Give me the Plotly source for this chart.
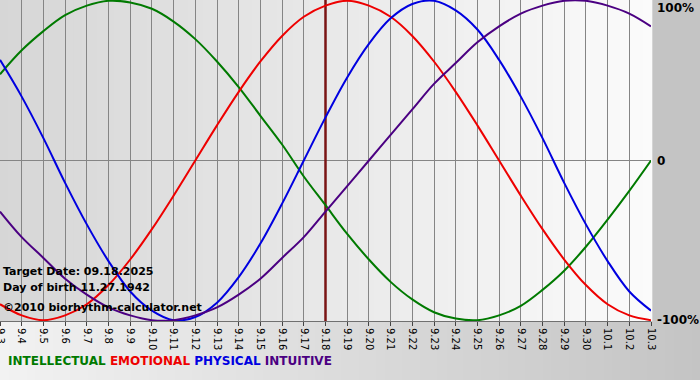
import plotly.graph_objects as go

# ---- data ----
dates = ["9.3", "9.4", "9.5", "9.6", "9.7", "9.8", "9.9", "9.10", "9.11", "9.12",
         "9.13", "9.14", "9.15", "9.16", "9.17", "9.18", "9.19", "9.20", "9.21",
         "9.22", "9.23", "9.24", "9.25", "9.26", "9.27", "9.28", "9.29", "9.30",
         "10.1", "10.2", "10.3"]

intellectual = [0.54, 0.69, 0.81, 0.91, 0.97, 1.00, 0.99, 0.95, 0.87, 0.76,
                0.62, 0.46, 0.28, 0.10, -0.10, -0.28, -0.46, -0.62, -0.76,
                -0.87, -0.95, -0.99, -1.00, -0.97, -0.91, -0.81, -0.69, -0.54,
                -0.37, -0.19, 0.00]
emotional = [-0.90, -0.97, -1.00, -0.97, -0.90, -0.78, -0.62, -0.43, -0.22, 0.00,
             0.22, 0.43, 0.62, 0.78, 0.90, 0.97, 1.00, 0.97, 0.90, 0.78,
             0.62, 0.43, 0.22, 0.00, -0.22, -0.43, -0.62, -0.78, -0.90, -0.97,
             -1.00]
physical = [0.63, 0.40, 0.14, -0.14, -0.40, -0.63, -0.82, -0.94, -1.00, -0.98,
            -0.89, -0.73, -0.52, -0.27, 0.00, 0.27, 0.52, 0.73, 0.89, 0.98,
            1.00, 0.94, 0.82, 0.63, 0.40, 0.14, -0.14, -0.40, -0.63, -0.82,
            -0.94]
intuitive = [-0.32, -0.48, -0.61, -0.74, -0.84, -0.92, -0.97, -1.00, -1.00, -0.97,
             -0.92, -0.84, -0.74, -0.61, -0.48, -0.32, -0.16, 0.00, 0.16, 0.32,
             0.48, 0.61, 0.74, 0.84, 0.92, 0.97, 1.00, 1.00, 0.97, 0.92,
             0.84]

target_date = "9.18"
series_names = ["INTELLECTUAL", "EMOTIONAL", "PHYSICAL", "INTUITIVE"]
series_colors = ["#007a00", "#ee0000", "#0000e0", "#4b0082"]
y_labels = ["100%", "0", "-100%"]
info_lines = ["Target Date: 09.18.2025", "Day of birth 11.27.1942",
              "\u00a92010 biorhythm-calculator.net"]

W, H = 700, 380
ML, MR, MT, MB = 0, 49, 0, 59
PW, PH = W - ML - MR, H - MT - MB

fig = go.Figure()

# target date line
fig.add_trace(go.Scatter(x=[target_date, target_date], y=[-1.1, 1.1], mode="lines",
                         line=dict(color="#7a1414", width=2.5), hoverinfo="skip",
                         showlegend=False))

for name, vals, col in zip(series_names,
                           [intellectual, emotional, physical, intuitive],
                           series_colors):
    fig.add_trace(go.Scatter(x=dates, y=vals, mode="lines", name=name,
                             line=dict(color=col, width=2, shape="spline", smoothing=1.0),
                             showlegend=False))


def lerp_gray(a, b, t):
    v = int(round(a + (b - a) * t))
    return "rgb(%d,%d,%d)" % (v, v, v)


shapes = []
# plot area gradient (darker left -> lighter right)
N = 80
for i in range(N):
    shapes.append(dict(type="rect", xref="paper", yref="paper",
                       x0=i / N, x1=(i + 1) / N + 0.002, y0=0, y1=1,
                       fillcolor=lerp_gray(214, 251, (i + 0.5) / N),
                       line=dict(width=0), layer="below"))
# bottom band gradient (lighter left -> darker right)
xr = W / PW
yb = -MB / PH
for i in range(N):
    shapes.append(dict(type="rect", xref="paper", yref="paper",
                       x0=xr * i / N, x1=xr * (i + 1) / N + 0.002, y0=yb, y1=0,
                       fillcolor=lerp_gray(242, 196, (i + 0.5) / N),
                       line=dict(width=0), layer="below"))

annotations = []
for txt, yv, anc, ys in zip(y_labels, [1, 0, -1], ["top", "middle", "middle"], [2, 0, 0]):
    annotations.append(dict(text="<b>%s</b>" % txt, xref="paper", yref="y",
                            x=1, y=yv, xanchor="left", yanchor=anc, xshift=4,
                            yshift=ys, showarrow=False,
                            font=dict(family="DejaVu Sans", size=12, color="#000")))
for txt, yp in zip(info_lines, [1 - 271 / PH, 1 - 287 / PH, 1 - 307 / PH]):
    annotations.append(dict(text="<b>%s</b>" % txt, xref="paper", yref="paper",
                            x=0, y=yp, xanchor="left", yanchor="middle", xshift=1,
                            showarrow=False,
                            font=dict(family="DejaVu Sans", size=11, color="#000")))
legend_html = " ".join('<span style="color:%s">%s</span>' % (c, n)
                       for n, c in zip(series_names, series_colors))
annotations.append(dict(text="<b>%s</b>" % legend_html, xref="paper", yref="paper",
                        x=0, y=1 - (361 - MT) / PH, xanchor="left", yanchor="middle",
                        xshift=6, showarrow=False,
                        font=dict(family="DejaVu Sans", size=12)))

fig.update_layout(
    width=W, height=H,
    margin=dict(l=ML, r=MR, t=MT, b=MB, pad=0, autoexpand=False),
    paper_bgcolor="#c4c4c4",
    plot_bgcolor="rgba(0,0,0,0)",
    shapes=shapes,
    annotations=annotations,
    showlegend=False,
    xaxis=dict(type="category", categoryorder="array", categoryarray=dates,
               range=[0, len(dates) - 1], tickvals=dates, ticktext=dates,
               tickangle=90, ticks="outside", ticklen=4, tickcolor="#444",
               tickfont=dict(family="DejaVu Sans", size=10, color="#000"),
               showgrid=True, gridcolor="#858585", gridwidth=1,
               showline=True, linecolor="#707070", linewidth=1,
               zeroline=False, fixedrange=True, automargin=False),
    yaxis=dict(range=[-1.005, 1.005], tickvals=[0], showticklabels=False,
               showgrid=True, gridcolor="#858585", gridwidth=1,
               zeroline=False, showline=False, fixedrange=True, automargin=False),
)

fig.write_html("out.html", config={"displayModeBar": False},
               post_script="document.body.style.margin='0';document.body.style.overflow='hidden';")
